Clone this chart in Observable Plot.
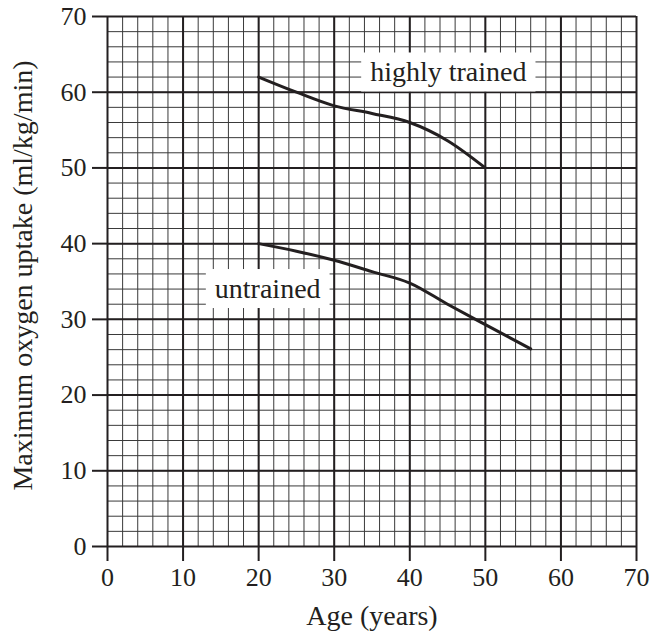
<!DOCTYPE html>
<html><head><meta charset="utf-8">
<script src="https://cdn.jsdelivr.net/npm/d3@7"></script>
<script src="https://cdn.jsdelivr.net/npm/@observablehq/plot@0.6"></script>
<style>body{margin:0;background:#fff;}</style>
</head><body><div id="chart"></div>
<script>
// ---- data ----
const ageTicks = [0, 10, 20, 30, 40, 50, 60, 70];
const uptakeTicks = [0, 10, 20, 30, 40, 50, 60, 70];
const minorGrid = [0, 2, 4, 6, 8, 10, 12, 14, 16, 18, 20, 22, 24, 26, 28, 30, 32, 34, 36, 38, 40, 42, 44, 46, 48, 50, 52, 54, 56, 58, 60, 62, 64, 66, 68, 70];

const trainedAge = [20, 25, 30, 35, 40, 45, 50];
const trainedUptake = [62, 60.0, 58.2, 57.2, 56.0, 53.6, 50];

const untrainedAge = [20, 25, 30, 35, 40, 45, 50, 56];
const untrainedUptake = [40, 39.0, 37.8, 36.3, 34.8, 32.0, 29.3, 26.1];

const labelText = ["highly trained", "untrained"];
const labelAge = [45.1, 21.2];
const labelUptake = [62.6, 34.0];

const xTitle = "Age (years)";
const yTitle = "Maximum oxygen uptake (ml/kg/min)";

// ---- tables ----
const trained = trainedAge.map((a, i) => ({age: a, uptake: trainedUptake[i]}));
const untrained = untrainedAge.map((a, i) => ({age: a, uptake: untrainedUptake[i]}));
const labels = labelText.map((t, i) => ({text: t, age: labelAge[i], uptake: labelUptake[i]}));

const ink = "#231f20";
const font = "'Liberation Serif', 'DejaVu Serif', serif";

const chart = Plot.plot({
  width: 652,
  height: 636,
  marginLeft: 107,
  marginRight: 16,
  marginTop: 16,
  marginBottom: 90,
  style: {fontFamily: font, fontSize: "26px", color: ink, background: "white"},
  x: {domain: [0, 70]},
  y: {domain: [0, 70]},
  marks: [
    Plot.ruleX(minorGrid, {stroke: "#3a3a3a", strokeWidth: 1}),
    Plot.ruleY(minorGrid, {stroke: "#3a3a3a", strokeWidth: 1}),
    Plot.ruleX(ageTicks, {stroke: ink, strokeWidth: 2}),
    Plot.ruleY(uptakeTicks, {stroke: ink, strokeWidth: 2}),
    Plot.axisX(ageTicks, {tickSize: 15, tickPadding: 6, fontSize: 26, strokeWidth: 2, stroke: ink, fill: ink, label: null}),
    Plot.axisY(uptakeTicks, {tickSize: 15, tickPadding: 6, fontSize: 26, strokeWidth: 2, stroke: ink, fill: ink, label: null}),
    Plot.text([xTitle], {text: d => d, frameAnchor: "bottom", textAnchor: "middle", dy: 78, fontSize: 28, fill: ink}),
    Plot.text([yTitle], {text: d => d, frameAnchor: "left", textAnchor: "middle", rotate: -90, dx: -84, dy: -6, fontSize: 28, fill: ink}),
    Plot.line(trained, {x: "age", y: "uptake", curve: "monotone-x", stroke: ink, strokeWidth: 3}),
    Plot.line(untrained, {x: "age", y: "uptake", curve: "monotone-x", stroke: ink, strokeWidth: 3}),
    Plot.text(labels, {x: "age", y: "uptake", text: "text", fontSize: 28, fill: ink, className: "label-box"})
  ]
});

document.getElementById("chart").append(chart);

// white boxes behind the curve labels
chart.querySelectorAll("g.label-box text").forEach(t => {
  const b = t.getBBox();
  const r = document.createElementNS("http://www.w3.org/2000/svg", "rect");
  r.setAttribute("x", b.x - 9);
  r.setAttribute("y", b.y - 4);
  r.setAttribute("width", b.width + 18);
  r.setAttribute("height", b.height + 8);
  r.setAttribute("fill", "white");
  r.setAttribute("stroke", "none");
  const tr = t.getAttribute("transform");
  if (tr) r.setAttribute("transform", tr);
  t.parentNode.insertBefore(r, t);
});
</script>
</body></html>
